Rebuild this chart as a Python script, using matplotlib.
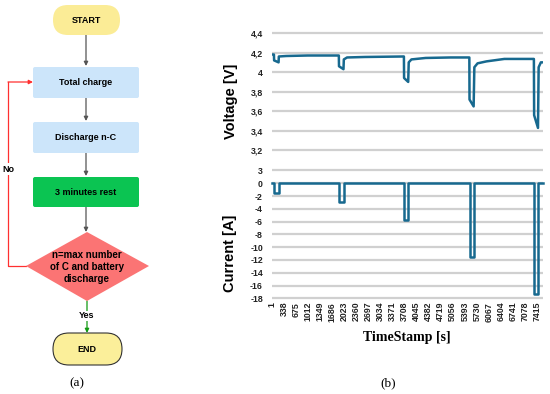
import numpy as np
import matplotlib
matplotlib.use('Agg')
from matplotlib import pyplot as plt
from matplotlib.patches import FancyBboxPatch, Polygon

# flowchart text
start_label = 'START'
step_labels = ['Total charge', 'Discharge n-C', '3 minutes rest']
decision_label = 'n=max number\nof C and battery\ndischarge'
end_label = 'END'
no_label = 'No'
yes_label = 'Yes'

# voltage trace [s], [V]
volt_t = [1, 55, 60, 185, 192, 400, 1000, 1870,
          1875, 2000, 2010, 2100, 2600, 3690,
          3695, 3810, 3825, 3900, 4300, 5000, 5520,
          5525, 5640, 5660, 5750, 6000, 6500, 7325,
          7332, 7440, 7458, 7520, 7580]
volt_v = [4.18, 4.18, 4.12, 4.10, 4.16, 4.165, 4.17, 4.17,
          4.06, 4.03, 4.13, 4.15, 4.155, 4.16,
          3.94, 3.90, 4.10, 4.13, 4.145, 4.15, 4.15,
          3.72, 3.65, 4.05, 4.09, 4.11, 4.135, 4.135,
          3.56, 3.43, 4.05, 4.10, 4.10]

# current trace (step) [s], [A]
curr_t = [1, 60, 185, 1875, 2005, 3695, 3815, 5525, 5645, 7330, 7445, 7580]
curr_a = [0, -1.5, 0, -3.0, 0, -5.8, 0, -11.6, 0, -17.4, 0, 0]

time_ticks = [1, 338, 675, 1012, 1349, 1686, 2023, 2360, 2697, 3034, 3371,
              3708, 4045, 4382, 4719, 5056, 5393, 5730, 6067, 6404, 6741,
              7078, 7415]
volt_ticks = [3, 3.2, 3.4, 3.6, 3.8, 4, 4.2, 4.4]
curr_ticks = [0, -2, -4, -6, -8, -10, -12, -14, -16, -18]

line_col = '#17698f'
grid_col = '#d0d0d0'
W, H = 550, 394

fig = plt.figure(figsize=(5.5, 3.94), dpi=100)

# ---- flowchart, drawn in pixel coordinates ----
fl = fig.add_axes([0, 0, 1, 1])
fl.set_xlim(0, W)
fl.set_ylim(H, 0)
fl.axis('off')

bold = dict(fontsize=6.5, fontweight='bold', family='Liberation Sans',
            ha='center', va='center', color='black')


def box(x0, y0, x1, y1, fc, ec='none', r=2, lw=0.8):
    p = FancyBboxPatch((x0, y0), x1 - x0, y1 - y0,
                       boxstyle='round,pad=0,rounding_size={}'.format(r),
                       fc=fc, ec=ec, lw=lw, zorder=2)
    fl.add_patch(p)


def arrow(x0, y0, x1, y1, col):
    fl.annotate('', xy=(x1, y1), xytext=(x0, y0),
                arrowprops=dict(arrowstyle='-|>', color=col, lw=0.9,
                                mutation_scale=6, shrinkA=0, shrinkB=0),
                zorder=1)


cx = 86
box(53, 5, 120, 35, '#fbec96', r=15)
fl.text(cx, 20, start_label, **bold)
arrow(cx, 35, cx, 66, '#555555')

box(33, 67, 139, 98, '#cce5fa')
fl.text(cx, 82, step_labels[0], **bold)
arrow(cx, 98, cx, 121, '#555555')

box(33, 122, 139, 153, '#cce5fa')
fl.text(cx, 137, step_labels[1], **bold)
arrow(cx, 153, cx, 176, '#555555')

box(33, 177, 139, 207, '#0bc452')
fl.text(cx, 192, step_labels[2], **bold)
arrow(cx, 207, cx, 232, '#555555')

dia = Polygon([(87, 232), (149, 266), (87, 301), (26, 266)], closed=True,
              fc='#fb7474', ec='none', zorder=2)
fl.add_patch(dia)
fl.text(87, 267, decision_label, linespacing=1.2,
        **dict(bold, fontsize=7))

# "No" loop back to total charge
fl.plot([26, 8, 8], [266, 266, 82], color='#ff3030', lw=0.9, zorder=1)
arrow(8, 82, 33, 82, '#ff3030')
fl.text(8, 169, no_label, bbox=dict(fc='white', ec='none', pad=1), **bold)

# "Yes" to end
arrow(87, 301, 87, 333, '#129a12')
fl.text(87, 316, yes_label, bbox=dict(fc='white', ec='none', pad=0.5), **bold)

box(53, 333, 122, 365, '#fbef9a', ec='#333333', r=16)
fl.text(87, 349, end_label, **bold)

fl.text(77, 383, '(a)', fontsize=9.5, family='Liberation Serif',
        ha='center', va='center')
fl.text(388, 383, '(b)', fontsize=9.5, family='Liberation Serif',
        ha='center', va='center')

# ---- measurement plots ----
x0, x1 = 272 / W, 543 / W
ax_v = fig.add_axes([x0, 1 - 170 / H, x1 - x0, 137 / H])
ax_i = fig.add_axes([x0, 1 - 298.3 / H, x1 - x0, 115 / H])

ax_v.plot(volt_t, volt_v, color=line_col, lw=1.8, solid_joinstyle='round',
          zorder=3)
ax_v.set_ylim(3, 4.4)
ax_v.set_yticks(volt_ticks)
ax_v.set_yticklabels([('%g' % v).replace('.', ',') for v in volt_ticks],
                     fontweight='bold', family='Liberation Sans')
ax_v.set_xticks([])
ax_v.set_ylabel('Voltage [V]', fontsize=10.5, fontweight='bold',
                family='Liberation Sans')
ax_v.yaxis.set_label_coords(-0.125, 0.5)

ax_i.plot(curr_t, curr_a, color=line_col, lw=1.8, drawstyle='steps-post',
          clip_on=False, zorder=3)
ax_i.set_ylim(-18, 0)
ax_i.set_yticks(curr_ticks)
ax_i.set_yticklabels([str(v) for v in curr_ticks], fontweight='bold',
                     family='Liberation Sans')
ax_i.set_xticks(time_ticks)
ax_i.set_xticklabels([str(t) for t in time_ticks], rotation=90,
                     fontweight='bold', family='Liberation Sans')
ax_i.tick_params(axis='x', pad=2.5)
ax_i.set_ylabel('Current [A]', fontsize=10.5, fontweight='bold',
                family='Liberation Sans')
ax_i.yaxis.set_label_coords(-0.129, 0.39)

for ax, ticks in ((ax_v, volt_ticks), (ax_i, curr_ticks)):
    for s in ax.spines.values():
        s.set_visible(False)
    ax.set_xlim(1, 7580)
    ax.tick_params(length=0, labelsize=6.3, colors='#222222')
    ax.tick_params(axis='y', pad=6.5)
    # horizontal gridlines at every y tick
    ax.hlines(ticks, 1, 7580, colors=grid_col, lw=1.6, zorder=1,
              clip_on=False)

fig.text(407 / W, 1 - 337 / H, 'TimeStamp [s]', fontsize=10,
         fontweight='bold', family='Liberation Serif', ha='center',
         va='center')

fig.savefig('out.png', dpi=100)
